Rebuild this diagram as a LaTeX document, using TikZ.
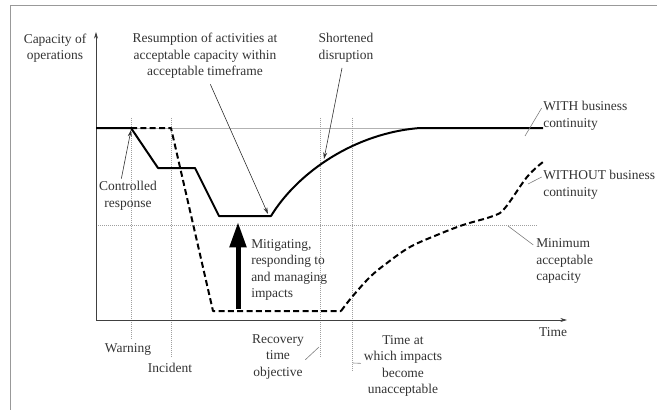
\documentclass[tikz,border=0pt]{standalone}
\usepackage{fontspec}
\setmainfont{Liberation Serif}
\usetikzlibrary{arrows.meta}
\definecolor{inkgray}{HTML}{333333}
\begin{document}
\begin{tikzpicture}[x=0.75pt,y=-0.75pt,
    lbl/.style={text=inkgray,font=\fontsize{10.1}{12.4}\selectfont,align=center,inner sep=0pt},
    ptr/.style={draw=inkgray,line width=0.45pt},
    tip/.style={-{Stealth[length=5pt,width=3pt]}},
    guide/.style={draw=gray!75,densely dotted,line width=0.5pt},
    curve/.style={line width=1.5pt,line join=round}]
  \useasboundingbox (0,0) rectangle (657,410);

  % Frame
  \draw[gray!80,line width=0.75pt] (10,410) -- (10,6) -- (657,6);

  % Reference levels and time marks
  \draw[gray!60,line width=0.6pt] (96,128) -- (543,128);
  \draw[guide] (96,225) -- (537,225);
  \foreach \x/\yb in {131/340,171/357,320/357,352/372}
    \draw[guide] (\x,118) -- (\x,\yb);

  % Axes
  \draw[gray!50!black,line width=0.6pt,tip] (96,320) -- (96,32);
  \draw[gray!50!black,line width=0.6pt,tip] (96,320) -- (567,320);

  % Capacity without business continuity
  \draw[curve,dash pattern=on 4.5pt off 2.5pt] (131,128) -- (171,128) -- (213,311) -- (341,311)
    plot[smooth,tension=0.6] coordinates {(341,311) (352,297) (370,277) (387,263) (410,247)
      (437,235) (463,225) (493,216) (505,208) (527,177) (543,162)};

  % Capacity with business continuity
  \draw[curve] (96,128) -- (131,128) -- (158,168) -- (195,168) -- (219,216) -- (271,216)
    .. controls (298,172) and (355,133) .. (420,128) -- (543,128);

  % Response effort
  \draw[line width=3.75pt,-{Triangle[length=19pt,width=12pt]}] (238,309) -- (238,222);

  % Labels
  \node[lbl] (cap) at (55,48) {Capacity of\\operations};
  \node[lbl] (resum) at (205,56) {Resumption of activities at\\acceptable capacity within\\acceptable timeframe};
  \node[lbl] (short) at (346,48) {Shortened\\disruption};
  \node[lbl,align=left,anchor=west] (with) at (543,116) {WITH business\\continuity};
  \node[lbl,align=left,anchor=west] (without) at (543,185) {WITHOUT business\\continuity};
  \node[lbl,align=left,anchor=west] (minimum) at (536,261) {Minimum\\acceptable\\capacity};
  \node[lbl,align=left,anchor=west] (mitig) at (251,270) {Mitigating,\\responding to\\and managing\\impacts};
  \node[lbl] (ctrl) at (128,196) {Controlled\\response};
  \node[lbl] (time) at (553,332) {Time};
  \node[lbl] (warning) at (128,349) {Warning};
  \node[lbl] (incident) at (170,368) {Incident};
  \node[lbl] (rto) at (278,357) {Recovery\\time\\objective};
  \node[lbl] (unacc) at (403,366) {Time at\\which impacts\\become\\unacceptable};

  % Pointers
  \coordinate (ctrl-tip) at (131,130);
  \coordinate (resum-tip) at (268,214);
  \coordinate (short-tip) at (324,159);
  \coordinate (with-end) at (525,136);
  \coordinate (without-end) at (528,184);
  \coordinate (minimum-end) at (508,226);
  \coordinate (rto-end) at (319,347);
  \coordinate (unacc-end) at (353,363);
  \draw[ptr,tip] ([xshift=-5pt,yshift=2pt]ctrl.north) -- (ctrl-tip);
  \draw[ptr,tip] ([xshift=4pt,yshift=-4pt]resum.south) -- (resum-tip);
  \draw[ptr,tip] ([xshift=-3pt,yshift=-4pt]short.south) -- (short-tip);
  \draw[ptr,draw=gray] ([xshift=-1pt,yshift=-5pt]with.north west) -- (with-end);
  \draw[ptr,draw=gray] ([xshift=-1pt,yshift=-5pt]without.north west) -- (without-end);
  \draw[ptr,draw=gray] ([xshift=-2pt,yshift=-5pt]minimum.north west) -- (minimum-end);
  \draw[ptr,draw=gray] ([xshift=1pt,yshift=-2pt]rto.east) -- (rto-end);
  \draw[ptr,draw=gray] ([xshift=-2pt,yshift=2pt]unacc.west) -- (unacc-end);
\end{tikzpicture}
\end{document}
